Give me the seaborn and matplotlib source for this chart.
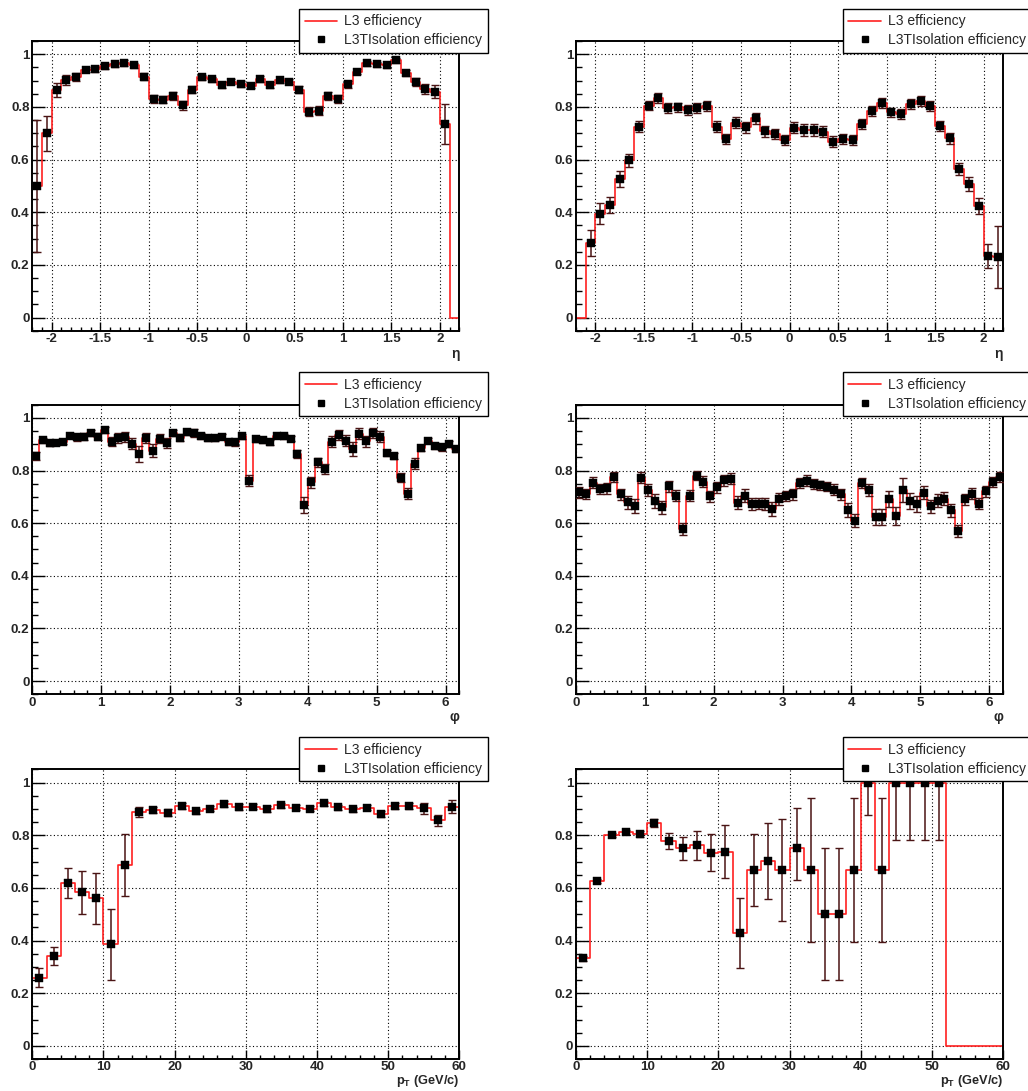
import numpy as np
import pandas as pd
import matplotlib
matplotlib.use("Agg")
import matplotlib.pyplot as plt
import seaborn as sns
from matplotlib.ticker import MultipleLocator, FuncFormatter
from matplotlib.lines import Line2D

nan = np.nan

# ---------------- data ----------------
eta_edges = np.round(np.linspace(-2.2, 2.2, 45), 3)
phi_edges = np.round(np.linspace(0.0, 6.2, 63), 3)
pt_edges = np.linspace(0.0, 60.0, 31)

eta_eff_a = [0.500, 0.700, 0.864, 0.902, 0.915, 0.942, 0.943, 0.954, 0.962, 0.967,
             0.958, 0.915, 0.831, 0.828, 0.842, 0.807, 0.866, 0.913, 0.905, 0.883,
             0.896, 0.887, 0.880, 0.906, 0.883, 0.901, 0.896, 0.866, 0.782, 0.786,
             0.842, 0.829, 0.886, 0.934, 0.965, 0.962, 0.958, 0.977, 0.928, 0.894,
             0.868, 0.857, 0.735, nan]
eta_err_a = [0.25, 0.067, 0.026, 0.02, 0.015, 0.01, 0.01, 0.01, 0.01, 0.01,
             0.01, 0.012, 0.016, 0.015, 0.016, 0.017, 0.013, 0.01, 0.01, 0.01,
             0.01, 0.01, 0.01, 0.01, 0.01, 0.01, 0.01, 0.013, 0.017, 0.017,
             0.015, 0.015, 0.013, 0.01, 0.01, 0.01, 0.01, 0.01, 0.012, 0.015,
             0.02, 0.025, 0.076, nan]

eta_eff_b = [nan, 0.284, 0.395, 0.428, 0.526, 0.598, 0.725, 0.805, 0.833, 0.795,
             0.798, 0.788, 0.796, 0.804, 0.725, 0.678, 0.740, 0.722, 0.757, 0.707,
             0.697, 0.674, 0.721, 0.712, 0.712, 0.706, 0.668, 0.679, 0.674, 0.736,
             0.785, 0.814, 0.779, 0.774, 0.811, 0.823, 0.804, 0.728, 0.681, 0.565,
             0.507, 0.423, 0.233, 0.231]
eta_err_b = [nan, 0.05, 0.04, 0.03, 0.03, 0.025, 0.022, 0.018, 0.018, 0.018,
             0.018, 0.018, 0.018, 0.018, 0.02, 0.02, 0.02, 0.02, 0.02, 0.02,
             0.02, 0.02, 0.02, 0.022, 0.022, 0.022, 0.02, 0.02, 0.02, 0.02,
             0.018, 0.018, 0.018, 0.018, 0.018, 0.018, 0.018, 0.02, 0.02, 0.022,
             0.025, 0.03, 0.045, 0.117]

phi_eff_a = [0.854, 0.915, 0.905, 0.906, 0.910, 0.933, 0.926, 0.929, 0.943, 0.929,
             0.954, 0.910, 0.923, 0.928, 0.902, 0.864, 0.923, 0.876, 0.921, 0.904,
             0.943, 0.925, 0.947, 0.942, 0.932, 0.924, 0.923, 0.929, 0.909, 0.907,
             0.930, 0.762, 0.918, 0.915, 0.907, 0.933, 0.930, 0.921, 0.864, 0.670,
             0.755, 0.831, 0.806, 0.910, 0.935, 0.914, 0.882, 0.940, 0.911, 0.942,
             0.929, 0.866, 0.856, 0.773, 0.712, 0.826, 0.886, 0.914, 0.894, 0.888,
             0.902, 0.882]
phi_err_a = [0.015, 0.01, 0.01, 0.01, 0.01, 0.01, 0.012, 0.012, 0.012, 0.012,
             0.01, 0.018, 0.02, 0.018, 0.022, 0.03, 0.02, 0.025, 0.018, 0.018,
             0.012, 0.012, 0.012, 0.015, 0.012, 0.01, 0.01, 0.01, 0.012, 0.012,
             0.01, 0.02, 0.01, 0.01, 0.01, 0.01, 0.01, 0.01, 0.015, 0.03,
             0.02, 0.018, 0.02, 0.02, 0.02, 0.02, 0.025, 0.022, 0.02, 0.018,
             0.02, 0.012, 0.012, 0.018, 0.02, 0.02, 0.012, 0.01, 0.012, 0.012,
             0.012, 0.012]

phi_eff_b = [0.717, 0.711, 0.754, 0.730, 0.732, 0.776, 0.709, 0.679, 0.665, 0.773,
             0.727, 0.684, 0.660, 0.740, 0.705, 0.577, 0.705, 0.781, 0.758, 0.702,
             0.736, 0.763, 0.769, 0.677, 0.705, 0.673, 0.674, 0.673, 0.654, 0.692,
             0.704, 0.709, 0.753, 0.762, 0.748, 0.744, 0.739, 0.727, 0.709, 0.650,
             0.610, 0.753, 0.727, 0.622, 0.622, 0.693, 0.627, 0.725, 0.684, 0.673,
             0.715, 0.664, 0.686, 0.693, 0.649, 0.570, 0.690, 0.712, 0.674, 0.721,
             0.757, 0.776]
phi_err_b = [0.022, 0.02, 0.02, 0.02, 0.022, 0.02, 0.022, 0.025, 0.025, 0.02,
             0.022, 0.025, 0.025, 0.02, 0.022, 0.022, 0.02, 0.018, 0.02, 0.022,
             0.02, 0.02, 0.022, 0.025, 0.025, 0.022, 0.022, 0.022, 0.025, 0.022,
             0.02, 0.02, 0.02, 0.02, 0.018, 0.018, 0.018, 0.02, 0.022, 0.025,
             0.025, 0.02, 0.022, 0.03, 0.03, 0.03, 0.035, 0.045, 0.03, 0.03,
             0.025, 0.025, 0.025, 0.025, 0.025, 0.022, 0.022, 0.022, 0.022, 0.02,
             0.018, 0.018]

pt_eff_a = [0.259, 0.341, 0.618, 0.583, 0.560, 0.385, 0.688, 0.888, 0.896, 0.886,
            0.911, 0.891, 0.901, 0.919, 0.907, 0.909, 0.900, 0.913, 0.905, 0.901,
            0.921, 0.906, 0.899, 0.905, 0.881, 0.911, 0.911, 0.902, 0.856, 0.909]
pt_err_a = [0.036, 0.034, 0.056, 0.082, 0.098, 0.135, 0.117, 0.02, 0.012, 0.012,
            0.01, 0.01, 0.01, 0.01, 0.01, 0.01, 0.01, 0.01, 0.01, 0.01,
            0.01, 0.01, 0.01, 0.01, 0.012, 0.012, 0.012, 0.02, 0.02, 0.025]

pt_eff_b = [0.332, 0.626, 0.801, 0.812, 0.804, 0.847, 0.779, 0.750, 0.762, 0.733,
            0.738, 0.430, 0.667, 0.701, 0.667, 0.750, 0.667, 0.500, 0.500, 0.667,
            1.000, 0.667, 1.000, 1.000, 1.000, 1.000, nan, nan, nan, nan]
pt_errlo_b = [0.01, 0.007, 0.007, 0.008, 0.012, 0.016, 0.03, 0.045, 0.055, 0.07,
              0.1, 0.133, 0.137, 0.145, 0.193, 0.12, 0.272, 0.25, 0.25, 0.272,
              0.124, 0.272, 0.218, 0.218, 0.218, 0.218, nan, nan, nan, nan]
pt_errhi_b = [0.01, 0.007, 0.007, 0.008, 0.012, 0.016, 0.03, 0.045, 0.055, 0.07,
              0.1, 0.13, 0.137, 0.145, 0.194, 0.155, 0.273, 0.25, 0.25, 0.273,
              0.0, 0.273, 0.0, 0.0, 0.0, 0.0, nan, nan, nan, nan]

legend_labels = ["L3 efficiency", "L3TIsolation efficiency"]

# ---------------- style ----------------
sns.set_style("ticks")
plt.rcParams["font.family"] = ["Liberation Sans", "DejaVu Sans"]
plt.rcParams["font.weight"] = "bold"
plt.rcParams["axes.unicode_minus"] = False
plt.rcParams["mathtext.fontset"] = "custom"
plt.rcParams["mathtext.rm"] = "Liberation Sans:bold"
plt.rcParams["mathtext.bf"] = "Liberation Sans:bold"
plt.rcParams["mathtext.it"] = "Liberation Sans:bold:italic"

W, H = 1028, 1091
fig = plt.figure(figsize=(W / 100, H / 100), dpi=100)
fig.patch.set_facecolor("white")

ax_w = 427 / W
ax_h = 289.6 / H
lefts = [32.3 / W, 576.0 / W]
bottoms = [(H - 330.7) / H, (H - 694.3) / H, (H - 1059.0) / H]

pt_label = r"$\mathbf{p_{T}}$ (GeV/c)"
panels = [
    (0, 0, eta_edges, eta_eff_a, eta_err_a, eta_err_a, "η", (0.5, 0.1)),
    (0, 1, eta_edges, eta_eff_b, eta_err_b, eta_err_b, "η", (0.5, 0.1)),
    (1, 0, phi_edges, phi_eff_a, phi_err_a, phi_err_a, "φ", (1.0, 0.2)),
    (1, 1, phi_edges, phi_eff_b, phi_err_b, phi_err_b, "φ", (1.0, 0.2)),
    (2, 0, pt_edges, pt_eff_a, pt_err_a, pt_err_a, pt_label, (10, 2)),
    (2, 1, pt_edges, pt_eff_b, pt_errlo_b, pt_errhi_b, pt_label, (10, 2)),
]

fmt = FuncFormatter(lambda v, p: f"{v:g}")
red = "#ff2020"
ebar_col = "#4a1414"

for row, col, edges, vals, elo, ehi, xlabel, (maj, mnr) in panels:
    ax = fig.add_axes([lefts[col], bottoms[row], ax_w, ax_h])
    vals = np.asarray(vals, dtype=float)
    elo = np.asarray(elo, dtype=float)
    ehi = np.asarray(ehi, dtype=float)
    centers = 0.5 * (edges[:-1] + edges[1:])
    l3 = np.nan_to_num(vals)

    # L3 efficiency histogram drawn as a step outline over the bin edges
    step_df = pd.DataFrame({"edge": edges, "eff": np.append(l3, l3[-1])})
    sns.lineplot(data=step_df, x="edge", y="eff", drawstyle="steps-post",
                 estimator=None, sort=False, color=red, linewidth=1.2,
                 ax=ax, zorder=2)

    m = ~np.isnan(vals)
    ax.errorbar(centers[m], vals[m], yerr=[elo[m], ehi[m]], fmt="none",
                ecolor=ebar_col, elinewidth=1.1, capsize=2.6, capthick=1.0, zorder=3)
    sns.scatterplot(x=centers[m], y=vals[m], marker="s", s=38, color="black",
                    edgecolor="black", linewidth=0.3, ax=ax, zorder=4)

    ax.set_xlim(edges[0], edges[-1])
    ax.set_ylim(-0.05, 1.05)
    ax.set_ylabel("")
    ax.xaxis.set_major_locator(MultipleLocator(maj))
    ax.xaxis.set_minor_locator(MultipleLocator(mnr))
    ax.yaxis.set_major_locator(MultipleLocator(0.2))
    ax.yaxis.set_minor_locator(MultipleLocator(0.05))
    ax.xaxis.set_major_formatter(fmt)
    ax.yaxis.set_major_formatter(fmt)
    ax.set_axisbelow(True)
    ax.grid(True, which="major", color="black", linestyle=(0, (1, 2.2)), linewidth=0.8)
    ax.tick_params(axis="both", which="both", direction="in", top=False, right=False,
                   width=1.0, color="black", labelsize=9.6)
    ax.tick_params(axis="x", which="major", length=6.3, pad=2 if row < 2 else 1.2)
    ax.tick_params(axis="x", which="minor", length=3.1)
    ax.tick_params(axis="y", which="major", length=9.2, pad=2)
    ax.tick_params(axis="y", which="minor", length=4.6)
    for sp in ax.spines.values():
        sp.set_visible(True)
        sp.set_color("black")
        sp.set_linewidth(1.4)
    if row == 2:
        ax.set_xlabel(xlabel, loc="right", fontsize=9.2, fontweight="bold", labelpad=0)
    else:
        ax.set_xlabel(xlabel, loc="right", fontsize=10, fontweight="bold", labelpad=1)

    handles = [Line2D([], [], color=red, linewidth=1.2),
               Line2D([], [], marker="s", color="black", linestyle="none", markersize=5)]
    leg = ax.legend(handles, legend_labels, loc="upper left",
                    bbox_to_anchor=(0.6246, 1.1115), borderaxespad=0,
                    prop={"weight": "normal", "size": 10}, handlelength=2.35,
                    handletextpad=0.5, borderpad=0.4, labelspacing=0.35,
                    frameon=True, fancybox=False, framealpha=1, edgecolor="black")
    leg.get_frame().set_linewidth(1.0)
    leg.set_zorder(10)

fig.savefig("out.png", dpi=100, facecolor="white")
